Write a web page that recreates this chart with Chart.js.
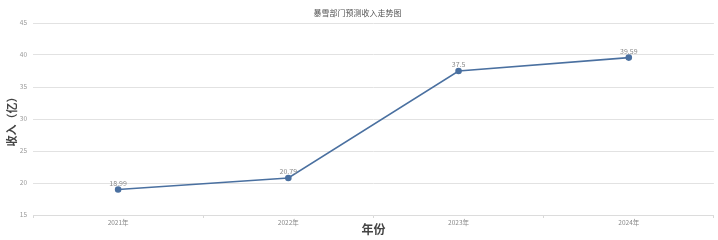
<!DOCTYPE html>
<html>
<head>
<meta charset="utf-8">
<script src="https://cdn.jsdelivr.net/npm/chart.js@4/dist/chart.umd.min.js"></script>
<style>
  body { margin: 0; background: #fff; }
  #wrap { width: 718px; height: 240px; }
</style>
</head>
<body>
<div id="wrap"><canvas id="revChart" width="718" height="240"></canvas></div>
<script>
const years = ["2021年", "2022年", "2023年", "2024年"]
const revenue = [18.99, 20.79, 37.5, 39.59]
const yMin = 15
const yMax = 45
const yStep = 5

const FONT = "'Noto Sans CJK SC', 'Noto Sans', sans-serif"

// value labels above each point
const pointLabels = {
  id: "pointLabels",
  afterDatasetsDraw(chart) {
    const ctx = chart.ctx
    const meta = chart.getDatasetMeta(0)
    ctx.save()
    ctx.font = "7px " + FONT
    ctx.fillStyle = "#8a8a8a"
    ctx.textAlign = "center"
    ctx.textBaseline = "middle"
    meta.data.forEach((pt, i) => {
      ctx.fillText(String(revenue[i]), pt.x, pt.y - 6.5)
    })
    ctx.restore()
  },
}

const ctx = document.getElementById("revChart").getContext("2d")
new Chart(ctx, {
  type: "line",
  data: {
    labels: years,
    datasets: [
      {
        data: revenue,
        borderColor: "#4a70a0",
        backgroundColor: "#4a70a0",
        borderWidth: 1.6,
        pointRadius: 2.5,
        pointHoverRadius: 2.5,
        tension: 0,
      },
    ],
  },
  options: {
    responsive: false,
    animation: false,
    layout: { padding: { left: 0, right: 3, top: 0, bottom: 0 } },
    plugins: {
      legend: { display: false },
      tooltip: { enabled: false },
      title: {
        display: true,
        text: "暴雪部门预测收入走势图",
        color: "#555",
        font: { family: FONT, size: 8, weight: "normal" },
        padding: { top: 8, bottom: 5.4 },
      },
    },
    scales: {
      x: {
        offset: true,
        grid: {
          offset: true,
          drawOnChartArea: false,
          drawTicks: true,
          tickLength: 3,
          color: "#d8d8d8",
        },
        border: { display: true, color: "#dcdcdc" },
        ticks: {
          color: "#888",
          padding: 1,
          font: { family: FONT, size: 6.5 },
        },
        title: {
          display: true,
          text: "年份",
          color: "#444",
          font: { family: FONT, size: 12, weight: "bold" },
          padding: { top: 0, bottom: 3.8 },
        },
        afterFit(scale) {
          scale.height = 25
          scale.paddingLeft = 0
          scale.paddingRight = 0
        },
      },
      y: {
        min: yMin,
        max: yMax,
        ticks: {
          stepSize: yStep,
          color: "#999",
          padding: 6,
          font: { family: FONT, size: 6.5 },
        },
        grid: { color: "#e2e2e2", drawTicks: false },
        border: { display: false },
        title: {
          display: true,
          text: "收入（亿）",
          color: "#444",
          font: { family: FONT, size: 11, weight: "bold" },
          padding: { top: 5, bottom: 0 },
        },
        afterFit(scale) {
          scale.width = 33
          scale.paddingTop = 0
          scale.paddingBottom = 0
        },
      },
    },
  },
  plugins: [pointLabels],
})
</script>
</body>
</html>
